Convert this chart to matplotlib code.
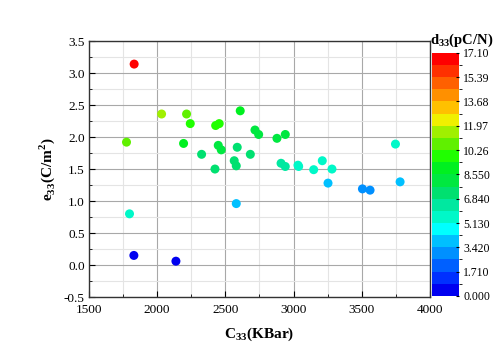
import numpy as np
import matplotlib.pyplot as plt
from matplotlib.colors import ListedColormap, BoundaryNorm
from matplotlib.ticker import MultipleLocator

plt.rcParams['font.family'] = ['Liberation Serif', 'DejaVu Serif']
plt.rcParams['mathtext.fontset'] = 'custom'
plt.rcParams['mathtext.rm'] = 'Liberation Serif'
plt.rcParams['mathtext.bf'] = 'Liberation Serif:bold'

# C33 (KBar), e33 (C/m^2), d33 (pC/N)
c33 = [1832, 2033, 2216, 2243, 2429, 2455, 2609, 1776, 2194, 2326,
       2448, 2470, 2587, 2424, 2565, 2580, 2683, 2717, 2744, 2878,
       2939, 2908, 2939, 3032, 3037, 3147, 3210, 3281, 3746, 3252,
       3504, 3560, 3780, 2580, 1798, 1830, 2138]
e33 = [3.14, 2.36, 2.36, 2.21, 2.18, 2.21, 2.41, 1.92, 1.90, 1.73,
       1.87, 1.80, 1.84, 1.50, 1.63, 1.55, 1.73, 2.11, 2.04, 1.98,
       2.04, 1.59, 1.54, 1.56, 1.54, 1.49, 1.63, 1.50, 1.89, 1.28,
       1.19, 1.17, 1.30, 0.96, 0.80, 0.15, 0.06]
d33 = [16.8, 11.6, 10.5, 10.0, 9.5, 9.5, 9.0, 10.8, 9.0, 7.5,
       7.8, 7.8, 7.6, 7.2, 6.9, 6.9, 7.4, 7.9, 7.9, 7.7,
       7.8, 6.2, 6.0, 5.6, 5.6, 5.3, 5.4, 5.4, 5.2, 4.0,
       3.0, 3.0, 4.0, 4.2, 5.3, 0.5, 0.5]

band_colors = ['#0000f0', '#0030ff', '#0060ff', '#0090ff', '#00c0ff',
               '#00ffff', '#00f8c8', '#00e8a0', '#00e070', '#00e840',
               '#00f020', '#20ff00', '#60f000', '#a0f000', '#f0f000',
               '#ffc000', '#ff9000', '#ff6000', '#ff3000', '#ff0000']
levels = np.linspace(0, 17.1, 21)
cbar_ticks = np.linspace(0, 17.1, 11)
cbar_labels = ['0.000', '1.710', '3.420', '5.130', '6.840', '8.550',
               '10.26', '11.97', '13.68', '15.39', '17.10']

cmap = ListedColormap(band_colors)
norm = BoundaryNorm(levels, cmap.N)

fig = plt.figure(figsize=(4.99, 3.57), dpi=100)
ax = fig.add_axes([0.178, 0.168, 0.684, 0.717])
sc = ax.scatter(c33, e33, c=d33, cmap=cmap, norm=norm, s=42, zorder=3,
                edgecolors='none')

ax.set_xlim(1500, 4000)
ax.set_ylim(-0.5, 3.5)
ax.xaxis.set_major_locator(MultipleLocator(500))
ax.xaxis.set_minor_locator(MultipleLocator(250))
ax.yaxis.set_major_locator(MultipleLocator(0.5))
ax.yaxis.set_minor_locator(MultipleLocator(0.25))
ax.yaxis.set_major_formatter(plt.FormatStrFormatter('%.1f'))
ax.grid(which='major', color='#a8a8a8', linewidth=0.8)
ax.grid(which='minor', color='#e4e4e4', linewidth=0.8)
ax.set_axisbelow(True)
ax.tick_params(which='both', direction='in', labelsize=9.5)
ax.tick_params(axis='x', pad=5)
ax.tick_params(axis='y', pad=3)
ax.tick_params(which='major', length=4)
ax.tick_params(which='minor', length=2)
for sp in ax.spines.values():
    sp.set_color('#333333')
    sp.set_linewidth(1.0)

ax.set_xlabel(r'C$_{\mathbf{33}}$(KBar)', fontsize=11, fontweight='bold', labelpad=7)
ax.set_ylabel(r'e$_{\mathbf{33}}$(C/m$^{\mathbf{2}}$)', fontsize=11, fontweight='bold', labelpad=5)

cax = fig.add_axes([0.866, 0.171, 0.054, 0.681])
cb = fig.colorbar(sc, cax=cax, ticks=cbar_ticks, spacing='proportional')
cb.ax.set_yticklabels(cbar_labels)
cb.outline.set_visible(False)
cb.ax.tick_params(labelsize=8.5, length=2, direction='in', pad=3)
fig.text(0.862, 0.862, r'd$_{\mathbf{33}}$(pC/N)', fontsize=10.5, fontweight='bold',
         ha='left', va='bottom')

fig.savefig('out.png', dpi=100)
